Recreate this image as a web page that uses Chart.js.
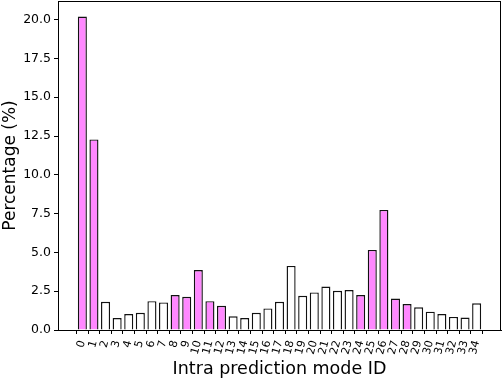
<!DOCTYPE html>
<html>
<head>
<meta charset="UTF-8">
<script src="https://cdn.jsdelivr.net/npm/chart.js"></script>
<style>
  html,body{margin:0;padding:0;background:#fff;}
  #wrap{width:502px;height:378px;}
</style>
</head>
<body>
<div id="wrap"><canvas id="chart" width="502" height="378"></canvas></div>
<script>
// mode IDs on the x axis
const modes = [0,1,2,3,4,5,6,7,8,9,10,11,12,13,14,15,16,17,18,19,20,21,22,23,24,25,26,27,28,29,30,31,32,33,34];
// percentage per mode
const percent = [20.2,12.28,1.82,0.77,1.03,1.11,1.86,1.78,2.25,2.14,3.86,1.86,1.56,0.88,0.77,1.11,1.39,1.82,4.13,2.2,2.42,2.8,2.53,2.57,2.25,5.16,7.74,2.03,1.67,1.46,1.18,1.03,0.84,0.8,1.72];
// modes drawn filled
const highlighted = [0,1,8,9,10,11,12,24,25,26,27,28];
const yTicks = [0,2.5,5,7.5,10,12.5,15,17.5,20];

const font = "'DejaVu Sans', sans-serif";

const frame = {
  id: 'frame',
  afterDraw(chart) {
    const a = chart.chartArea, ctx = chart.ctx;
    ctx.save();
    ctx.strokeStyle = '#000';
    ctx.lineWidth = 1;
    ctx.strokeRect(a.left + 0.5, a.top + 0.5, a.right - a.left - 1, a.bottom - a.top);
    ctx.restore();
  }
};

new Chart(document.getElementById('chart'), {
  type: 'bar',
  data: {
    datasets: [{
      data: modes.map((m, i) => ({x: m, y: percent[i]})),
      backgroundColor: modes.map(m => highlighted.includes(m) ? '#FF88FF' : '#FFFFFF'),
      borderColor: '#111',
      borderWidth: 1.4,
      barPercentage: 1,
      categoryPercentage: 0.78
    }]
  },
  options: {
    responsive: false,
    animation: false,
    layout: {padding: {top: 1, right: 1, left: 0, bottom: 0}},
    plugins: {legend: {display: false}, tooltip: {enabled: false}},
    scales: {
      x: {
        type: 'linear',
        offset: false,
        min: -2.1,
        max: 36.1,
        afterBuildTicks: s => { s.ticks = modes.map(v => ({value: v})); },
        afterFit: s => { s.height = 48; s.paddingLeft = 0; s.paddingRight = 0; },
        grid: {drawOnChartArea: false, drawTicks: true, tickLength: 4, color: '#000'},
        border: {display: true, color: '#000'},
        ticks: {
          autoSkip: false,
          minRotation: 75,
          maxRotation: 75,
          padding: 5,
          color: '#000',
          font: {family: font, size: 11},
          callback: v => String(v)
        },
        title: {display: true, text: 'Intra prediction mode ID', color: '#000', font: {family: font, size: 17.5, lineHeight: 1}, padding: {top: 0, bottom: 0}}
      },
      y: {
        min: 0,
        max: 21.2,
        afterBuildTicks: s => { s.ticks = yTicks.map(v => ({value: v})); },
        afterFit: s => { s.width = 58; s.paddingTop = 0; s.paddingBottom = 0; },
        grid: {drawOnChartArea: false, drawTicks: true, tickLength: 4, color: '#000'},
        border: {display: true, color: '#000'},
        ticks: {
          color: '#000',
          padding: 3,
          font: {family: font, size: 12.5},
          callback: v => v.toFixed(1)
        },
        title: {display: true, text: 'Percentage (%)', color: '#000', font: {family: font, size: 17}, padding: {top: 0, bottom: 2}}
      }
    }
  },
  plugins: [frame]
});
</script>
</body>
</html>
